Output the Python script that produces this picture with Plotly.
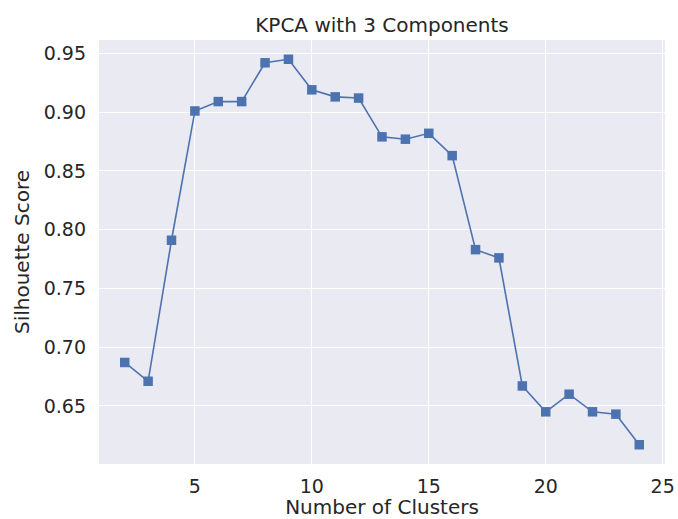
import plotly.graph_objects as go

clusters = list(range(2, 25))
scores = [0.687, 0.671, 0.791, 0.901, 0.909, 0.909, 0.942, 0.945, 0.919, 0.913,
          0.912, 0.879, 0.877, 0.882, 0.863, 0.783, 0.776, 0.667, 0.645, 0.660,
          0.645, 0.643, 0.617]
x_ticks = [5, 10, 15, 20, 25]
y_ticks = [0.65, 0.70, 0.75, 0.80, 0.85, 0.90, 0.95]

TXT = "#262626"
FONT = "DejaVu Sans"

fig = go.Figure(go.Scatter(
    x=clusters, y=scores, mode="lines+markers",
    line=dict(color="#4C72B0", width=1.6),
    marker=dict(symbol="square", size=9.5, color="#4C72B0"),
    showlegend=False,
))

fig.update_layout(
    width=678, height=519,
    margin=dict(l=99, r=13, t=40, b=55),
    paper_bgcolor="white",
    plot_bgcolor="#EAEAF2",
    font=dict(family=FONT, color=TXT, size=19),
    title=dict(text="KPCA with 3 Components", x=(99 + 665) / 2 / 678, xanchor="center",
               y=1 - 25 / 519, yanchor="middle", font=dict(size=20, color=TXT, family=FONT)),
)
fig.update_xaxes(
    range=[0.9, 25.1], tickvals=x_ticks, ticktext=[str(v) for v in x_ticks],
    showgrid=True, gridcolor="white", gridwidth=1.3, zeroline=False, showline=False,
    ticks="", tickfont=dict(size=19, color=TXT), ticklabelstandoff=9, automargin=False,
    title=dict(text="Number of Clusters", font=dict(size=20, color=TXT), standoff=8),
)
fig.update_yaxes(
    range=[0.6006, 0.9614], tickvals=y_ticks, ticktext=[f"{v:.2f}" for v in y_ticks],
    showgrid=True, gridcolor="white", gridwidth=1.3, zeroline=False, showline=False,
    ticks="", tickfont=dict(size=19, color=TXT), ticklabelstandoff=12, automargin=False,
    title=dict(text="Silhouette Score", font=dict(size=20, color=TXT), standoff=8),
)

fig.write_html("out.html")
